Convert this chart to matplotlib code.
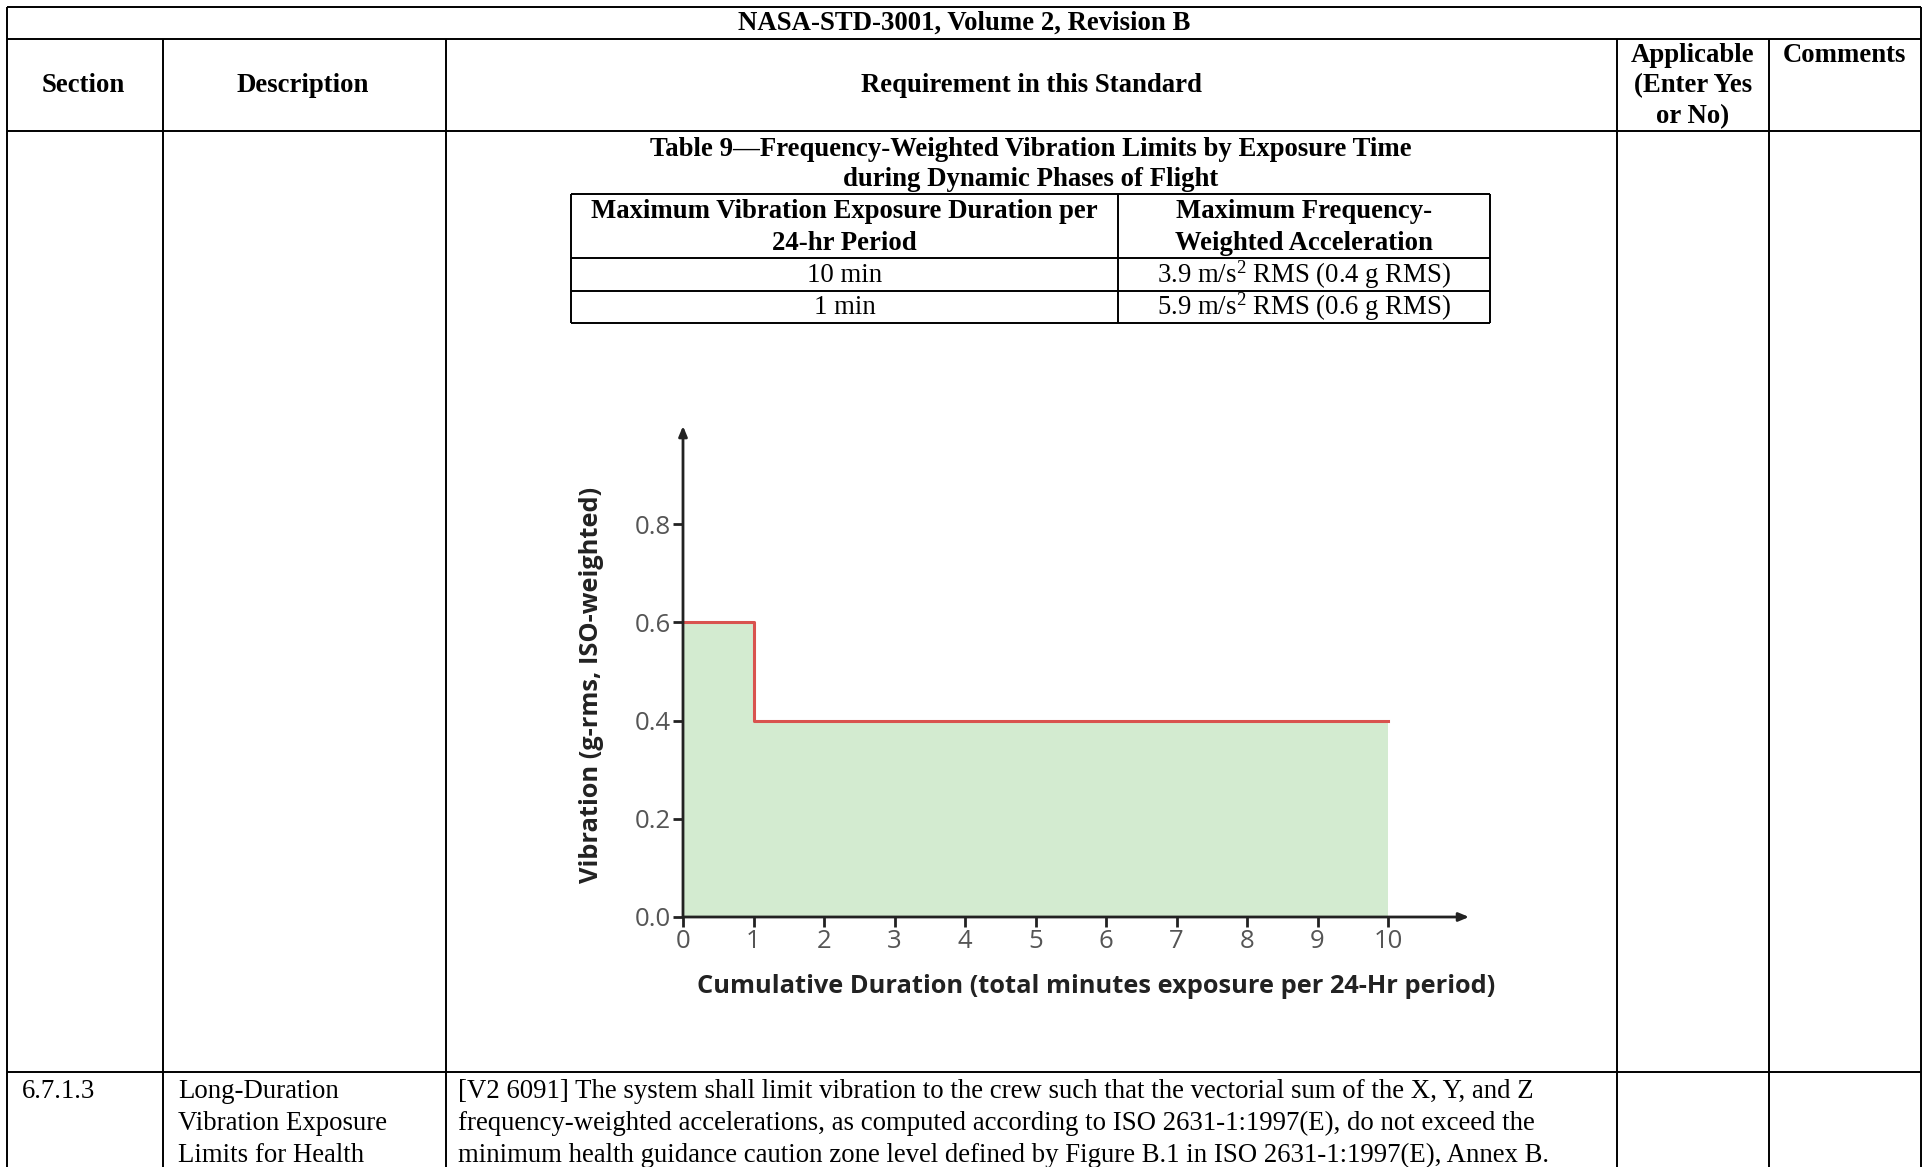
import matplotlib
matplotlib.use("Agg")
import matplotlib.pyplot as plt

W, H = 1925, 1167

# --- data -------------------------------------------------------------------
header_title = "NASA-STD-3001, Volume 2, Revision B"
col_headers = ["Section", "Description", "Requirement in this Standard"]
applicable_hdr = ["Applicable", "(Enter Yes", "or No)"]
comments_hdr = "Comments"
table_title = ["Table 9\u2014Frequency-Weighted Vibration Limits by Exposure Time",
               "during Dynamic Phases of Flight"]
inner_headers = [["Maximum Vibration Exposure Duration per", "24-hr Period"],
                 ["Maximum Frequency-", "Weighted Acceleration"]]
exposure_dur = ["10 min", "1 min"]
accel_limit = ["3.9 m/s$^{2}$ RMS (0.4 g RMS)", "5.9 m/s$^{2}$ RMS (0.6 g RMS)"]

duration_min = [0, 1, 10]
vib_g_rms = [0.6, 0.4, 0.4]
x_ticks = list(range(0, 11))
y_ticks = [0.0, 0.2, 0.4, 0.6, 0.8]

next_section = "6.7.1.3"
next_desc = ["Long-Duration", "Vibration Exposure", "Limits for Health"]
next_req = ["[V2 6091] The system shall limit vibration to the crew such that the vectorial sum of the X, Y, and Z",
            "frequency-weighted accelerations, as computed according to ISO 2631-1:1997(E), do not exceed the",
            "minimum health guidance caution zone level defined by Figure B.1 in ISO 2631-1:1997(E), Annex B."]

SERIF = "Liberation Serif"
SANS = "Open Sans"
FS = 19.3
LW = 1.4

plt.rcParams["mathtext.fontset"] = "custom"
plt.rcParams["mathtext.rm"] = SERIF
plt.rcParams["mathtext.it"] = SERIF + ":italic"
plt.rcParams["mathtext.bf"] = SERIF + ":bold"

fig = plt.figure(figsize=(W / 100, H / 100), dpi=100)
page = fig.add_axes([0, 0, 1, 1])
page.set_xlim(0, W); page.set_ylim(H, 0); page.axis("off")

# outer grid
cols = [7, 163, 446, 1617, 1769, 1921]
page.hlines(7, 7, 1921, color="k", lw=LW)
page.hlines(39, 7, 1921, color="k", lw=LW)
page.hlines(131, 7, 1921, color="k", lw=LW)
page.hlines(1072, 7, 1921, color="k", lw=LW)
page.vlines([7, 1921], 7, H, color="k", lw=LW)
page.vlines(cols[1:-1], 39, H, color="k", lw=LW)


def txt(x, y, s, bold=False, ha="center"):
    page.text(x, y, s, family=SERIF, weight="bold" if bold else "normal",
              fontsize=FS, ha=ha, va="center")


txt(964, 23, header_title, bold=True)
for x, t in zip([83, 303, 1031], col_headers):
    txt(x, 86, t, bold=True)
for y, t in zip([56, 86, 117], applicable_hdr):
    txt(1693, y, t, bold=True)
txt(1844, 56, comments_hdr, bold=True)

# table 9
for y, t in zip([150, 179], table_title):
    txt(1031, y, t, bold=True)
tl, tm, tr = 571, 1118, 1490
page.hlines([194, 258, 291, 323], tl, tr, color="k", lw=LW)
page.vlines([tl, tm, tr], 194, 323, color="k", lw=LW)
for cx, lines in zip([(tl + tm) / 2, (tm + tr) / 2], inner_headers):
    for y, t in zip([212, 243], lines):
        txt(cx, y, t, bold=True)
for y, d, a in zip([275, 307], exposure_dur, accel_limit):
    txt((tl + tm) / 2, y, d)
    txt((tm + tr) / 2, y, a)

# next row
txt(22, 1092, next_section, ha="left")
for y, t in zip([1092, 1123, 1155], next_desc):
    txt(178, y, t, ha="left")
for y, t in zip([1092, 1123, 1155], next_req):
    txt(458, y, t, ha="left")

# --- chart ------------------------------------------------------------------
x0, y0 = 683, 917
px_x, px_y = 70.5, 491.0
xmax, ymax = 11.15, 1.0
ax = fig.add_axes([x0 / W, (H - y0) / H, xmax * px_x / W, ymax * px_y / H])
ax.set_xlim(0, xmax); ax.set_ylim(0, ymax)
ax.patch.set_alpha(0)
for s in ax.spines.values():
    s.set_visible(False)

ax.fill_between(duration_min, vib_g_rms, step="post", color="#d3ebd0", lw=0)
ax.step(duration_min, vib_g_rms, where="post", color="#d9534f", lw=2.2)

arrow = dict(arrowstyle="-|>,head_length=0.6,head_width=0.25", color="#222", lw=2,
             shrinkA=0, shrinkB=0)
ax.annotate("", xy=(xmax, 0), xytext=(0, 0), annotation_clip=False, arrowprops=arrow)
ax.annotate("", xy=(0, ymax), xytext=(0, 0), annotation_clip=False, arrowprops=arrow)

ax.set_xticks(x_ticks)
ax.set_yticks(y_ticks)
ax.set_yticklabels([f"{v:.1f}" for v in y_ticks])
ax.tick_params(direction="out", length=7, width=2, color="#222", labelcolor="#555",
               labelsize=18.5, pad=2)
for lab in ax.get_xticklabels() + ax.get_yticklabels():
    lab.set_family(SANS)

ax.set_xlabel("Cumulative Duration (total minutes exposure per 24-Hr period)",
              family=SANS, weight="bold", fontsize=18.3, color="#222")
ax.set_ylabel("Vibration (g-rms, ISO-weighted)", family=SANS, weight="bold",
              fontsize=18.3, color="#222")
ax.xaxis.set_label_coords(0.525, -0.116)
ax.yaxis.set_label_coords(-0.1, 0.473)

fig.savefig("out.png", dpi=100)
